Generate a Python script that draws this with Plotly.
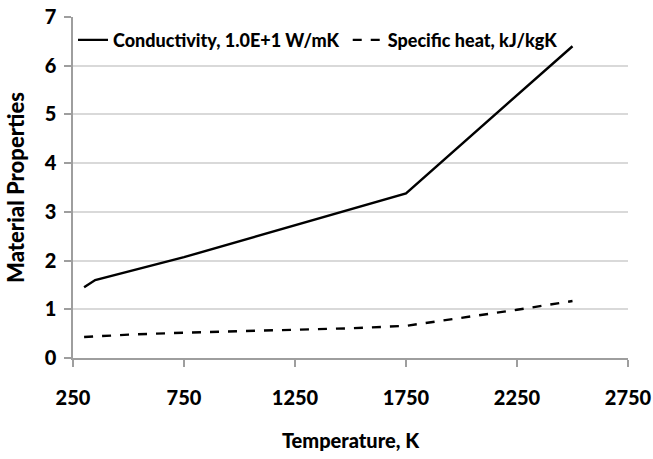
import plotly.graph_objects as go

temp_k = [300, 350, 750, 1250, 1750, 2500]
conductivity = [1.45, 1.6, 2.07, 2.72, 3.38, 6.4]

temp_c = [300, 500, 750, 1000, 1250, 1500, 1750, 2000, 2250, 2500]
specific_heat = [0.43, 0.48, 0.52, 0.55, 0.58, 0.61, 0.66, 0.82, 0.99, 1.17]

x_ticks = [250, 750, 1250, 1750, 2250, 2750]
y_ticks = [0, 1, 2, 3, 4, 5, 6, 7]

FONT = "Lato"
legend_font = dict(size=18, family=FONT, weight=900, color="black")

fig = go.Figure()
fig.add_trace(go.Scatter(x=temp_k, y=conductivity, mode="lines",
                         name="Conductivity, 1.0E+1 W/mK", legend="legend",
                         line=dict(color="black", width=2.4)))
fig.add_trace(go.Scatter(x=temp_c, y=specific_heat, mode="lines",
                         name="Specific heat, kJ/kgK", legend="legend2",
                         line=dict(color="black", width=2.4, dash="dash")))

fig.update_layout(
    width=653, height=459,
    margin=dict(l=73, r=25, t=17, b=101),
    paper_bgcolor="white", plot_bgcolor="white",
    font=dict(family=FONT, color="black"),
    showlegend=True,
    legend=dict(x=0.0, y=0.932, xanchor="left", yanchor="middle",
                font=legend_font, bgcolor="rgba(0,0,0,0)"),
    legend2=dict(x=0.495, y=0.932, xanchor="left", yanchor="middle",
                 font=legend_font, bgcolor="rgba(0,0,0,0)"),
    xaxis=dict(range=[250, 2750], tickvals=x_ticks, ticktext=[str(v) for v in x_ticks],
               automargin=False,
               showgrid=False, zeroline=False, showline=True, linecolor="#9e9e9e", linewidth=1.5,
               ticks="outside", tickcolor="#9e9e9e", ticklen=7, tickwidth=1.5,
               ticklabelstandoff=14, ticklabeloverflow="allow",
               tickfont=dict(size=20, family=FONT, weight=900),
               title=dict(text="Temperature, K", font=dict(size=20, family=FONT, weight=900),
                          standoff=26)),
    yaxis=dict(range=[0, 7], tickvals=y_ticks, automargin=False,
               showgrid=True, gridcolor="#d9d9d9", gridwidth=1.5, zeroline=False,
               showline=True, linecolor="#9e9e9e", linewidth=1.5,
               ticks="outside", tickcolor="#9e9e9e", ticklen=7, tickwidth=1.5,
               ticklabelstandoff=4,
               tickfont=dict(size=20, family=FONT, weight=900),
               title=dict(text="Material Properties", font=dict(size=22, family=FONT, weight=900),
                          standoff=14)),
)

fig.write_html("out.html")
